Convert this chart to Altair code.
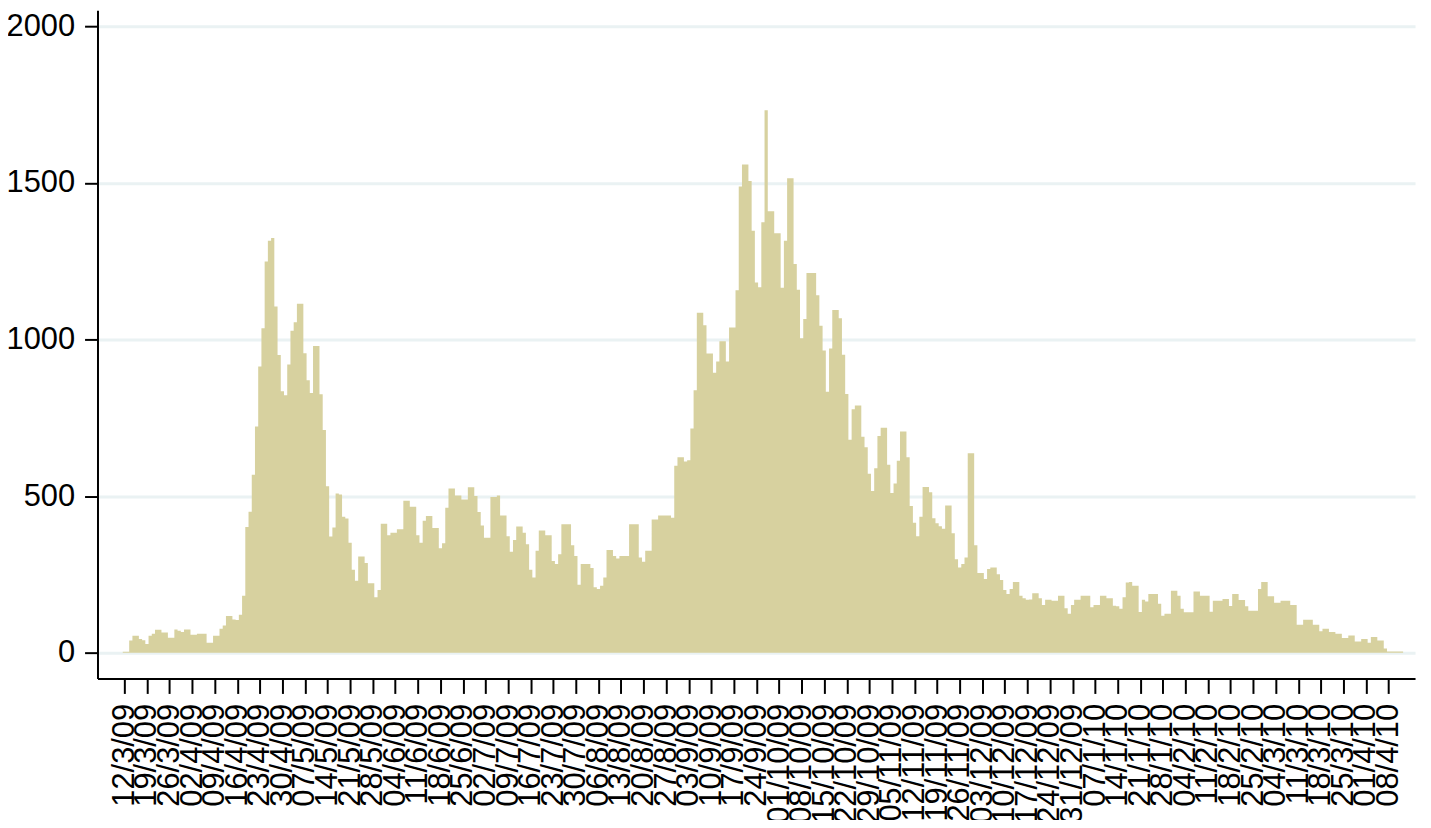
import altair as alt
import pandas as pd

# Daily counts starting 12/3/09, one list per month
MAR09 = [3, 3, 39, 54, 54, 44, 40, 28, 54, 60, 73, 73, 64, 64, 48, 48, 74, 70, 66, 74]
APR09 = [74, 57, 57, 60, 60, 60, 32, 32, 54, 54, 76, 87, 117, 117, 106, 104, 121, 182, 401, 450,
         568, 722, 914, 1036, 1249, 1315, 1324, 1105, 950, 835]
MAY09 = [822, 920, 1028, 1055, 1114, 1114, 956, 870, 829, 979, 979, 825, 711, 531, 371, 400,
         508, 505, 434, 428, 351, 265, 230, 307, 307, 286, 222, 222, 177, 200, 412]
JUN09 = [412, 375, 383, 383, 394, 394, 485, 485, 466, 466, 375, 351, 421, 436, 436, 398, 398,
         333, 349, 463, 524, 524, 502, 502, 489, 489, 528, 528, 500, 449]
JUL09 = [406, 367, 367, 497, 497, 502, 438, 438, 372, 322, 360, 403, 403, 383, 346, 265, 240,
         325, 390, 390, 375, 375, 293, 283, 314, 410, 410, 410, 343, 309, 217]
AUG09 = [283, 283, 283, 270, 209, 203, 214, 240, 328, 328, 309, 301, 309, 309, 309, 410, 410,
         410, 304, 290, 325, 325, 425, 425, 438, 438, 438, 438, 431, 597, 624]
SEP09 = [624, 610, 614, 716, 838, 1085, 1085, 1045, 955, 955, 894, 930, 994, 994, 930, 1038,
         1038, 1157, 1488, 1559, 1559, 1506, 1347, 1182, 1167, 1374, 1732, 1409, 1409, 1339]
OCT09 = [1339, 1165, 1315, 1515, 1515, 1241, 1159, 1004, 1065, 1212, 1212, 1212, 1141, 1044,
         965, 833, 971, 1094, 1094, 1068, 951, 826, 680, 777, 789, 789, 689, 656, 571, 516, 589]
NOV09 = [692, 718, 718, 600, 510, 540, 613, 706, 706, 624, 468, 415, 372, 434, 529, 529, 512,
         429, 413, 404, 396, 470, 470, 381, 298, 272, 283, 304, 637, 637]
DEC09 = [343, 254, 254, 235, 267, 272, 272, 250, 232, 200, 187, 203, 226, 226, 182, 174, 169,
         170, 190, 190, 174, 152, 169, 169, 166, 166, 182, 182, 142, 124, 152]
JAN10 = [169, 169, 182, 182, 182, 145, 152, 152, 182, 182, 174, 174, 150, 148, 140, 177, 224,
         226, 214, 214, 130, 169, 163, 187, 187, 187, 156, 118, 124, 124, 198]
FEB10 = [198, 182, 140, 129, 129, 129, 195, 195, 182, 182, 182, 131, 166, 166, 166, 171, 171,
         149, 187, 187, 168, 168, 148, 134, 134, 134, 203, 226]
MAR10 = [226, 180, 180, 159, 159, 166, 166, 166, 152, 152, 89, 89, 105, 105, 105, 89, 89, 68,
         76, 76, 66, 66, 60, 60, 47, 47, 55, 55, 36, 36, 44]
APR10 = [44, 32, 50, 50, 39, 39, 13, 4, 4, 4, 4, 4]

TICK_LABELS = [
    "12/3/09", "19/3/09", "26/3/09", "02/4/09", "09/4/09", "16/4/09", "23/4/09", "30/4/09",
    "07/5/09", "14/5/09", "21/5/09", "28/5/09", "04/6/09", "11/6/09", "18/6/09", "25/6/09",
    "02/7/09", "09/7/09", "16/7/09", "23/7/09", "30/7/09", "06/8/09", "13/8/09", "20/8/09",
    "27/8/09", "03/9/09", "10/9/09", "17/9/09", "24/9/09", "01/10/09", "08/10/09", "15/10/09",
    "22/10/09", "29/10/09", "05/11/09", "12/11/09", "19/11/09", "26/11/09", "03/12/09",
    "10/12/09", "17/12/09", "24/12/09", "31/12/09", "07/1/10", "14/1/10", "21/1/10", "28/1/10",
    "04/2/10", "11/2/10", "18/2/10", "25/2/10", "04/3/10", "11/3/10", "18/3/10", "25/3/10",
    "01/4/10", "08/4/10",
]
Y_TICKS = [0, 500, 1000, 1500, 2000]

FILL = "#D7D19F"
FONT = "Liberation Sans"

months = [MAR09, APR09, MAY09, JUN09, JUL09, AUG09, SEP09, OCT09, NOV09, DEC09, JAN10, FEB10,
          MAR10, APR10]
values = [v for m in months for v in m]
n = len(values)
# each daily bar spans day-0.5 .. day+0.5; step-interpolated area draws them seamlessly
xs = [-0.5] + list(range(n)) + [n - 0.5]
ys = [values[0]] + values + [values[-1]]
df = pd.DataFrame({"day": xs, "cases": ys})

tick_days = [7 * i for i in range(len(TICK_LABELS))]
label_expr = "[" + ",".join("'" + s + "'" for s in TICK_LABELS) + "][round(datum.value / 7)]"

chart = alt.Chart(df).mark_area(
    color=FILL, interpolate="step", opacity=1,
).encode(
    x=alt.X("day:Q",
            scale=alt.Scale(domain=[-8.33, 400.2], nice=False, zero=False),
            axis=alt.Axis(values=tick_days, labelExpr=label_expr, title=None, grid=False,
                          labelAngle=270, labelFontSize=31, labelFont=FONT, labelColor="black",
                          labelPadding=10, labelOverlap=False, labelFlush=False,
                          tickSize=15, tickWidth=2, tickColor="black",
                          domainColor="black", domainWidth=2)),
    y=alt.Y("cases:Q",
            scale=alt.Scale(domain=[-82.5, 2051], nice=False, zero=False),
            axis=alt.Axis(values=Y_TICKS, format="d", title=None, grid=True,
                          gridColor="#EAF2F3", gridWidth=3,
                          labelFontSize=31, labelFont=FONT, labelColor="black",
                          labelPadding=10, labelOverlap=False, labelFlush=False,
                          tickSize=13, tickWidth=2, tickColor="black",
                          domainColor="black", domainWidth=2)),
    y2=alt.datum(0),
).properties(
    width=1325, height=672,
    autosize=alt.AutoSizeParams(type="none"),
    padding={"left": 90, "top": 0, "right": 8, "bottom": 140},
    background="white",
).configure_view(stroke=None)

chart.save("out.html", embed_options={"renderer": "svg", "actions": False})
